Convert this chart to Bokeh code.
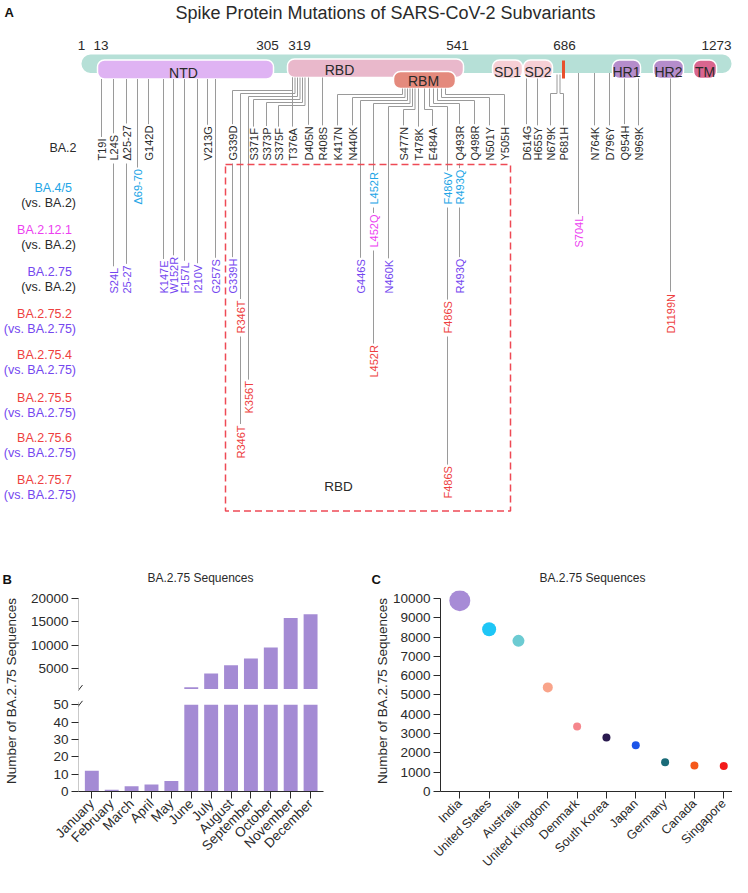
import re
import math
from bokeh.plotting import figure
from bokeh.models import Range1d, FixedTicker, Arrow
from bokeh.layouts import column, row
from bokeh.embed import file_html
from bokeh.resources import INLINE
from bokeh.core.properties import value

FONT = "Liberation Sans"

# ======================= DATA =======================
chart_title = "Spike Protein Mutations of SARS-CoV-2 Subvariants"
variants = ["BA.2", "BA.4/5", "BA.2.12.1", "BA.2.75", "BA.2.75.2",
            "BA.2.75.4", "BA.2.75.5", "BA.2.75.6", "BA.2.75.7"]
comparisons = ["", "(vs. BA.2)", "(vs. BA.2)", "(vs. BA.2)", "(vs. BA.2.75)",
               "(vs. BA.2.75)", "(vs. BA.2.75)", "(vs. BA.2.75)", "(vs. BA.2.75)"]

ba2_mutations = ["T19I", "L24S", "Δ25-27", "G142D", "V213G", "G339D", "S371F", "S373P",
                 "S375F", "T376A", "D405N", "R408S", "K417N", "N440K", "S477N", "T478K",
                 "E484A", "Q493R", "Q498R", "N501Y", "Y505H", "D614G", "H655Y", "N679K",
                 "P681H", "N764K", "D796Y", "Q954H", "N969K"]
ba45_mutations = ["Δ69-70", "L452R", "F486V", "R493Q"]
ba2121_mutations = ["L452Q", "S704L"]
ba275_mutations = ["S24L", "25-27", "K147E", "W152R", "F157L", "I210V", "G257S", "G339H",
                   "G446S", "N460K", "R493Q"]
ba2752_mutations = ["R346T", "F486S", "D1199N"]
ba2754_mutations = ["L452R"]
ba2755_mutations = ["K356T"]
ba2756_mutations = ["R346T"]
ba2757_mutations = ["F486S"]
variant_mutations = [ba2_mutations, ba45_mutations, ba2121_mutations, ba275_mutations,
                     ba2752_mutations, ba2754_mutations, ba2755_mutations,
                     ba2756_mutations, ba2757_mutations]

domain_names = ["NTD", "RBD", "RBM", "SD1", "SD2", "HR1", "HR2", "TM"]
residue_marks = ["1", "13", "305", "319", "541", "686", "1273"]

panel_b_title = "BA.2.75 Sequences"
months = ["January", "February", "March", "April", "May", "June", "July", "August",
          "September", "October", "November", "December"]
month_sequences = [12, 1, 3, 4, 6, 1000, 3950, 5700, 7150, 9500, 15800, 16600]
lower_ticks = [0, 10, 20, 30, 40, 50]
upper_ticks = [5000, 10000, 15000, 20000]

panel_c_title = "BA.2.75 Sequences"
countries = ["India", "United States", "Australia", "United Kingdom", "Denmark",
             "South Korea", "Japan", "Germany", "Canada", "Singapore"]
country_sequences = [9880, 8400, 7800, 5390, 3360, 2790, 2400, 1520, 1350, 1320]
y_label = "Number of BA.2.75 Sequences"

# ======================= STYLE / LAYOUT =======================
DARK = "#2a2a2a"
BLUE = "#22a5e6"
MAGENTA = "#ec3ff0"
PURPLE = "#7446ef"
RED = "#ee4040"
LINE = "#9a9a9a"

variant_colors = [DARK, BLUE, MAGENTA, PURPLE, RED, RED, RED, RED, RED]
comparison_colors = [DARK, DARK, DARK, DARK, PURPLE, PURPLE, PURPLE, PURPLE, PURPLE]
row_label_y = [147, 187, 229, 271, 313, 354, 397, 437, 479]
row_text_bottom = [160, 204, 247, 293, 333, 377, 413, 458, 498]

site_x = {19: 101, 24: 113, 25: 126, 69: 137, 142: 148, 147: 163, 152: 173, 157: 184,
          210: 197, 213: 207, 257: 215, 339: 232, 346: 240, 356: 248, 371: 253, 373: 266,
          375: 278, 376: 292, 405: 308, 408: 322, 417: 337, 440: 352, 446: 360, 452: 373,
          460: 388, 477: 403, 478: 418, 484: 432, 486: 447, 493: 459, 498: 474, 501: 489,
          505: 504, 614: 526, 655: 537, 679: 550, 681: 563, 704: 578, 764: 594, 796: 609,
          954: 624, 969: 638, 1199: 670}
# site -> (start y, attach x or None, elbow y)
route = {}
for s in [19, 24, 25, 69, 142, 147, 152, 157, 210, 213, 257]:
    route[s] = (78.5, None, None)
route.update({376: (77, None, None), 405: (77, None, None), 408: (77, None, None),
              339: (77, 292, 90), 346: (77, 294.5, 93), 356: (77, 297, 96),
              371: (77, 299.5, 99), 373: (77, 302, 102), 375: (77, 304.5, 105),
              417: (88, 402, 94), 440: (88, 404.5, 97), 446: (88, 407, 100),
              452: (88, 409.5, 103), 460: (88, 412, 106), 477: (88, 414.5, 109),
              478: (88, None, None), 484: (88, 424, 109), 486: (88, 429, 106),
              493: (88, 433, 103), 498: (88, 437, 100), 501: (88, 441, 97),
              505: (88, 445, 94), 614: (78, None, None), 655: (78, None, None),
              679: (74, 556.5, 93), 681: (74, 559.5, 93), 704: (72.5, None, None),
              764: (72.5, None, None), 796: (72.5, None, None), 954: (78, None, None),
              969: (78, None, None), 1199: (78, None, None)})

domain_boxes = [(97, 273, 59.5, 78.5, "#dfb3f3"), (287, 463, 58.5, 77, "#e9b8cb"),
                (393, 455, 71, 88, "#e48a7d"), (492, 522, 59.5, 78, "#f6cfd5"),
                (523, 552, 59.5, 78, "#f6cfd5"), (612, 640, 59.5, 78, "#b58dcb"),
                (653, 683, 59.5, 78, "#b58dcb"), (693, 716, 59.5, 78, "#d9668f")]
domain_text_xy = [(183, 72.5), (339, 69), (423, 80), (507, 71.5), (537.5, 71.5),
                  (626, 71.5), (668, 71.5), (704.5, 71.5)]
residue_mark_xy = [(81, 45), (100.5, 45), (267, 45), (299, 45), (457, 45), (564, 45), (715, 45)]

CHAR_W = {"A": .667, "B": .667, "C": .722, "D": .722, "E": .667, "F": .611, "G": .778,
          "H": .722, "I": .278, "K": .667, "L": .556, "M": .833, "N": .722, "P": .667,
          "Q": .778, "R": .722, "S": .667, "T": .611, "V": .667, "W": .944, "Y": .667,
          "Δ": .668, "-": .333}
MUT_SIZE = 11


def text_len(s, size):
    return sum(CHAR_W.get(c, .556) for c in s) * size


def site_of(name):
    return int(re.search(r"\d+", name).group())


def txt(f, x, y, t, size, color=DARK, align="center", style="normal", angle=0.0):
    f.text(x=x, y=y, text=t, angle=angle, text_font=value(FONT), text_font_size=size,
           text_font_style=style, text_color=color, text_align=align,
           text_baseline="middle")


# ======================= PANEL A =======================
top = figure(width=732, height=570, x_range=Range1d(0, 732), y_range=Range1d(570, 0),
             x_axis_type=None, y_axis_type=None, toolbar_location=None,
             output_backend="svg", min_border=0)
top.outline_line_color = None

txt(top, [4], [11.5], ["A"], "13px", "#111", "left", "bold")
txt(top, [385], [12], [chart_title], "18px")

# protein bar and domains
top.quad(left=[81], right=[731], top=[54], bottom=[72.5], fill_color="#b6e0d7",
         line_color=None, border_radius=9)
top.quad(left=[b[0] for b in domain_boxes], right=[b[1] for b in domain_boxes],
         top=[b[2] for b in domain_boxes], bottom=[b[3] for b in domain_boxes],
         fill_color=[b[4] for b in domain_boxes], line_color="white", line_width=1.5,
         border_radius=7)
top.quad(left=[561.5], right=[564.5], top=[60], bottom=[78], fill_color="#e8502c",
         line_color=None)
txt(top, [p[0] for p in domain_text_xy], [p[1] for p in domain_text_xy], domain_names, "14px")
txt(top, [p[0] for p in residue_mark_xy[:-1]], [p[1] for p in residue_mark_xy[:-1]],
    residue_marks[:-1], "13.5px")
txt(top, [731], [45], residue_marks[-1:], "13.5px", align="right")

# row labels
txt(top, [76], [row_label_y[0]], [variants[0]], "12.5px", variant_colors[0], "right")
txt(top, [71.5] * 8, row_label_y[1:], variants[1:], "12.5px", variant_colors[1:], "right")
txt(top, [75.5] * 8, [v + 15 for v in row_label_y[1:]], comparisons[1:], "12.5px",
    comparison_colors[1:], "right")

# mutation labels + leader lines
lab_x, lab_y, lab_t, lab_c = [], [], [], []
by_site = {}
for r, muts in enumerate(variant_mutations):
    for m in muts:
        s = site_of(m)
        bottom = row_text_bottom[r]
        lab_x.append(site_x[s]); lab_y.append(bottom); lab_t.append(m)
        lab_c.append(variant_colors[r])
        by_site.setdefault(s, []).append((bottom - text_len(m, MUT_SIZE), bottom))

path_x, path_y = [], []
for s, labs in by_site.items():
    x = site_x[s]
    y0, ax, ly = route[s]
    first_top = labs[0][0] - 1.5
    if ax is None:
        path_x.append([x, x]); path_y.append([y0, first_top])
    else:
        path_x.append([ax, ax, x, x]); path_y.append([y0, ly, ly, first_top])
    for prev, cur in zip(labs, labs[1:]):
        path_x.append([x, x]); path_y.append([prev[1] + 3, cur[0] - 1.5])

top.multi_line(xs=path_x, ys=path_y, line_color=LINE, line_width=1)
txt(top, lab_x, lab_y, lab_t, f"{MUT_SIZE}px", lab_c, "left", angle=math.pi / 2)

# RBD dashed region
top.line(x=[225, 510, 510, 225, 225], y=[164, 164, 510.5, 510.5, 164], line_color="#ee4a55",
         line_width=1.5, line_dash="7 4")
txt(top, [338], [486], ["RBD"], "13.5px")

# ======================= header row for B / C =======================
head = figure(width=732, height=18, x_range=Range1d(0, 732), y_range=Range1d(588, 570),
              x_axis_type=None, y_axis_type=None, toolbar_location=None,
              output_backend="svg", min_border=0)
head.outline_line_color = None
txt(head, [2, 371], [578.5, 578.5], ["B", "C"], "13px", "#111", "left", "bold")
txt(head, [200, 592], [577.5, 577.5], [panel_b_title, panel_c_title], "12px")


# ======================= helpers =======================
def style_axis(ax, size="13.5px"):
    ax.axis_line_color = DARK
    ax.axis_line_width = 1
    ax.major_tick_line_color = DARK
    ax.minor_tick_line_color = None
    ax.major_tick_out = 7
    ax.major_tick_in = 0
    ax.major_label_text_font = FONT
    ax.major_label_text_font_size = size
    ax.major_label_text_color = DARK
    ax.major_label_standoff = 3
    ax.axis_label_text_font = FONT
    ax.axis_label_text_font_style = "normal"
    ax.axis_label_text_font_size = "13.5px"
    ax.axis_label_text_color = DARK
    ax.axis_label_standoff = 0


def base_fig(w, h, xr, yr, **kw):
    f = figure(width=w, height=h, x_range=xr, y_range=yr, toolbar_location=None,
               output_backend="svg", **kw)
    f.outline_line_color = None
    f.grid.visible = False
    return f


# shared frame geometry of the two lower panels (image pixels)
FR_TOP, FR_BOTTOM = 590, 794
BORDER_TOP = FR_TOP - 588
BORDER_BOTTOM = 877 - FR_BOTTOM

# ======================= PANEL B (broken y axis) =======================
BAR = "#a48bd4"
month_idx = list(range(len(months)))
UPPER_START = 600
FR_LEFT = 77
UP_TOP = 598            # pixel of 20000
UP_BOTTOM = 690         # pixel of UPPER_START
LOW_TOP = 706           # pixel of 50
low_px = (FR_BOTTOM - LOW_TOP) / lower_ticks[-1]
up_px = (UP_BOTTOM - UP_TOP) / (upper_ticks[-1] - UPPER_START)


def img_to_low(py):
    return round((FR_BOTTOM - py) / low_px, 4)


def img_to_up(py):
    return UPPER_START + (UP_BOTTOM - py) / up_px


def up_to_low(v):
    return img_to_low(UP_BOTTOM - (v - UPPER_START) * up_px)


def bx(px):
    return -0.67 + (px - FR_LEFT) / 19.97


bfig = base_fig(366, 289, Range1d(-0.67, 11.65), Range1d(0, img_to_low(FR_TOP)),
                min_border_left=FR_LEFT, min_border_right=43, min_border_top=BORDER_TOP,
                min_border_bottom=BORDER_BOTTOM)
bfig.extra_y_ranges = {"upper": Range1d(img_to_up(FR_BOTTOM), img_to_up(FR_TOP))}
# lower segment (0-50)
bfig.vbar(x=month_idx, top=[min(v, lower_ticks[-1]) for v in month_sequences], bottom=0,
          width=0.7, fill_color=BAR, line_color=None)
# upper segment
up_idx = [i for i, v in enumerate(month_sequences) if v > UPPER_START]
bfig.vbar(x=up_idx, top=[month_sequences[i] for i in up_idx], bottom=UPPER_START, width=0.7,
          fill_color=BAR, line_color=None, y_range_name="upper")

up_pos = [up_to_low(v) for v in upper_ticks]
bfig.yaxis.ticker = FixedTicker(ticks=lower_ticks + up_pos)
bfig.yaxis.major_label_overrides = {p: str(v) for p, v in zip(up_pos, upper_ticks)}
bfig.xaxis.ticker = FixedTicker(ticks=month_idx)
bfig.xaxis.major_label_overrides = {i: m for i, m in enumerate(months)}
bfig.xaxis.major_label_orientation = math.pi / 4
style_axis(bfig.yaxis[0])
style_axis(bfig.xaxis[0])
bfig.yaxis.axis_line_color = None
bfig.yaxis.axis_label = y_label
bfig.yaxis.axis_label_standoff = 9

x0 = bx(FR_LEFT - 0.5)
for ys, ye in [(0, img_to_low(703)), (up_to_low(UPPER_START), up_to_low(upper_ticks[-1]))]:
    bfig.add_layout(Arrow(end=None, x_start=x0, y_start=ys, x_end=x0, y_end=ye,
                          line_color=DARK, line_width=1))
# break marks
bfig.add_layout(Arrow(end=None, x_start=bx(74), y_start=img_to_low(695), x_end=bx(81),
                      y_end=img_to_low(686), line_color=DARK, line_width=1))
bfig.add_layout(Arrow(end=None, x_start=bx(74), y_start=img_to_low(711), x_end=bx(81),
                      y_end=img_to_low(702), line_color=DARK, line_width=1))

# ======================= PANEL C =======================
country_idx = list(range(len(countries)))
dot_sizes = [21, 14, 12, 10, 8, 8, 8, 8, 8, 8]
dot_colors = ["#a78bd6", "#1ec6f6", "#6ccbd2", "#f9a48a", "#f5868c", "#2a1a4f",
              "#1c55e8", "#1a6b78", "#f5581a", "#f31a1a"]
C_TOP_TICK = 598        # pixel of 10000

cf = base_fig(366, 289, Range1d(-0.658, 9.298),
              Range1d(0, 10000 * (FR_BOTTOM - FR_TOP) / (FR_BOTTOM - C_TOP_TICK)),
              min_border_left=74, min_border_right=0, min_border_top=BORDER_TOP,
              min_border_bottom=BORDER_BOTTOM)
cf.scatter(x=country_idx, y=country_sequences, size=dot_sizes, fill_color=dot_colors,
           line_color=None)
cf.yaxis.ticker = FixedTicker(ticks=list(range(0, 10001, 1000)))
cf.yaxis.bounds = (0, 10000)
cf.yaxis.axis_label = y_label
cf.xaxis.ticker = FixedTicker(ticks=country_idx)
cf.xaxis.major_label_overrides = {i: c for i, c in enumerate(countries)}
cf.xaxis.major_label_orientation = math.pi / 4
style_axis(cf.yaxis[0])
style_axis(cf.xaxis[0], "12.5px")

layout = column(top, head, row(bfig, cf))
open("out.html", "w").write(file_html(layout, INLINE))
